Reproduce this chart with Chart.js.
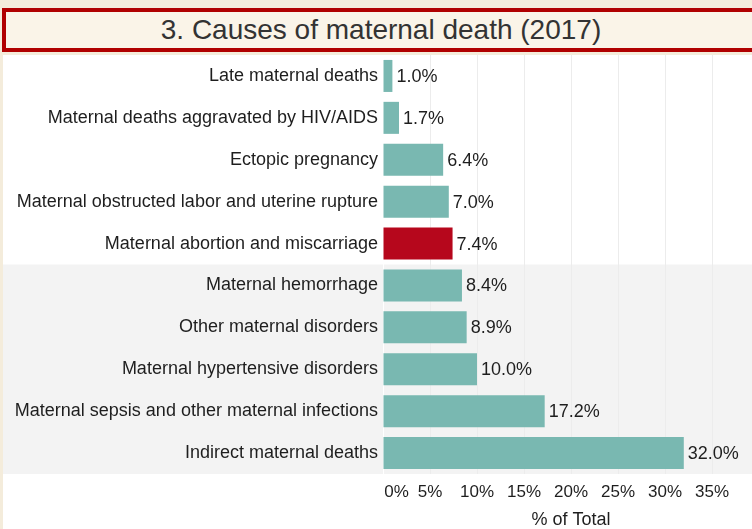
<!DOCTYPE html>
<html><head><meta charset="utf-8">
<script src="https://cdn.jsdelivr.net/npm/chart.js@4"></script>
<style>
html,body{margin:0;padding:0;background:#f4ecdb;overflow:hidden;width:752px;height:529px;position:relative;}
#title{position:absolute;left:2px;top:8px;width:790px;height:44px;box-sizing:border-box;border:4px solid #b00000;background:#faf4e8;font-family:"Liberation Sans",Arial,sans-serif;font-size:28px;color:#333;}
#title span{position:absolute;left:0;top:0;width:750px;text-align:center;line-height:36px;}
#wrap{position:absolute;left:3px;top:55px;width:756px;height:474px;}
</style></head>
<body>
<div id="title"><span>3. Causes of maternal death (2017)</span></div>
<div id="wrap"><canvas id="c" width="756" height="474"></canvas></div>
<script>
const categories = [
  'Late maternal deaths',
  'Maternal deaths aggravated by HIV/AIDS',
  'Ectopic pregnancy',
  'Maternal obstructed labor and uterine rupture',
  'Maternal abortion and miscarriage',
  'Maternal hemorrhage',
  'Other maternal disorders',
  'Maternal hypertensive disorders',
  'Maternal sepsis and other maternal infections',
  'Indirect maternal deaths'
];
const values = [1.0, 1.7, 6.4, 7.0, 7.4, 8.4, 8.9, 10.0, 17.2, 32.0];
const highlighted = ['Maternal abortion and miscarriage'];
const xTickValues = [0, 5, 10, 15, 20, 25, 30, 35];
const axisTitle = '% of Total';

const teal = '#79b8b1', red = '#b6071c';
const font = "'Liberation Sans', Arial, sans-serif";

const bgPlugin = {
  id: 'bg',
  beforeDraw(chart) {
    const {ctx, chartArea, scales} = chart;
    ctx.save();
    ctx.fillStyle = '#ffffff';
    ctx.fillRect(0, 0, chart.width, chart.height);
    const y = scales.y;
    const boundary = (y.getPixelForValue(4) + y.getPixelForValue(5)) / 2;
    ctx.fillStyle = '#f3f3f3';
    ctx.fillRect(0, boundary, chart.width, chartArea.bottom - boundary);
    ctx.restore();
  }
};
const labelPlugin = {
  id: 'vlabels',
  afterDatasetsDraw(chart) {
    const {ctx} = chart;
    const meta = chart.getDatasetMeta(0);
    ctx.save();
    ctx.font = '18px ' + font;
    ctx.fillStyle = '#1e1e1e';
    ctx.textAlign = 'left';
    ctx.textBaseline = 'middle';
    meta.data.forEach((bar, i) => {
      ctx.fillText(values[i].toFixed(1) + '%', bar.x + 4, bar.y + 1);
    });
    ctx.restore();
  }
};

new Chart(document.getElementById('c'), {
  type: 'bar',
  data: {
    labels: categories,
    datasets: [{
      data: values,
      backgroundColor: categories.map(c => highlighted.includes(c) ? red : teal),
      barPercentage: 0.764,
      categoryPercentage: 1
    }]
  },
  options: {
    indexAxis: 'y',
    responsive: false,
    devicePixelRatio: 1,
    animation: false,
    layout: {padding: 0},
    plugins: {legend: {display: false}, tooltip: {enabled: false}},
    scales: {
      x: {
        min: 0, max: 40,
        afterBuildTicks: s => { s.ticks = xTickValues.map(v => ({value: v})); },
        ticks: {
          font: {family: font, size: 17}, color: '#1e1e1e', padding: 8,
          maxRotation: 0, autoSkip: false,
          callback: v => v === 0 ? '\u00a0\u00a0\u00a0\u00a0\u00a0\u20090%' : v + '%'
        },
        grid: {color: c => (c.tick && c.tick.value === 0) ? '#ffffff' : '#ececec', drawTicks: false},
        border: {display: false},
        title: {display: true, text: axisTitle, font: {family: font, size: 18}, color: '#1e1e1e', padding: {top: 0, bottom: -2}},
        afterFit: s => { s.height = 55; s.paddingLeft = 0; s.paddingRight = 0; s.paddingTop = 0; s.paddingBottom = 0; }
      },
      y: {
        ticks: {font: {family: font, size: 18}, color: '#1e1e1e', padding: 5},
        grid: {display: false, drawTicks: false},
        border: {display: false},
        afterFit: s => { s.width = 380; s.paddingLeft = 0; s.paddingRight = 0; s.paddingTop = 0; s.paddingBottom = 0; }
      }
    }
  },
  plugins: [bgPlugin, labelPlugin]
});
</script>
</body></html>
